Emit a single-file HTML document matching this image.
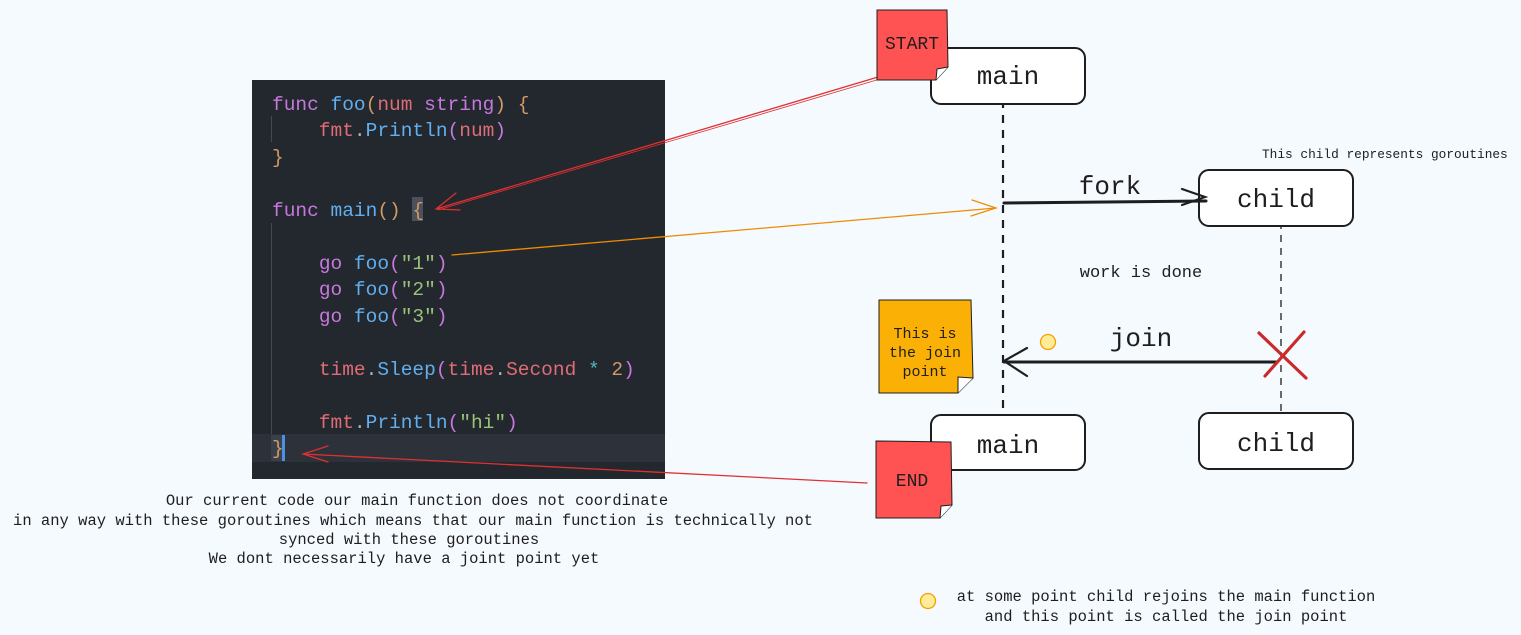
<!DOCTYPE html>
<html><head><meta charset="utf-8"><style>
html,body{margin:0;padding:0;background:#f5faff;}
svg{display:block}
.m{font-family:"Liberation Mono","DejaVu Sans Mono",monospace;}
</style></head><body>
<svg width="1521" height="635" xmlns="http://www.w3.org/2000/svg" class="m">
<rect width="1521" height="635" fill="#f5faff"/>
<!-- code panel -->
<rect x="252" y="80" width="413" height="399" fill="#23272e"/>
<rect x="252" y="434" width="413" height="28" fill="#2c313a"/>
<line x1="271.5" y1="116" x2="271.5" y2="142" stroke="#444a55" stroke-width="1"/>
<line x1="271.5" y1="223" x2="271.5" y2="434" stroke="#444a55" stroke-width="1"/>
<rect x="412" y="197" width="11" height="24" fill="#4a505c"/>
<rect x="271" y="435" width="11" height="26" fill="#3a404b"/>
<rect x="282" y="435" width="3" height="26" fill="#4d8fe0"/>
<g font-size="19.5" font-family="Liberation Mono, monospace">
<text x="272" y="110"><tspan fill="#c678dd">func</tspan> <tspan fill="#61afef">foo</tspan><tspan fill="#d19a66">(</tspan><tspan fill="#e06c75">num</tspan> <tspan fill="#c678dd">string</tspan><tspan fill="#d19a66">) {</tspan></text>
<text x="272" y="136" xml:space="preserve">    <tspan fill="#e06c75">fmt</tspan><tspan fill="#abb2bf">.</tspan><tspan fill="#61afef">Println</tspan><tspan fill="#c678dd">(</tspan><tspan fill="#e06c75">num</tspan><tspan fill="#c678dd">)</tspan></text>
<text x="272" y="163" fill="#d19a66">}</text>
<text x="272" y="216"><tspan fill="#c678dd">func</tspan> <tspan fill="#61afef">main</tspan><tspan fill="#d19a66">() {</tspan></text>
<text x="272" y="269" xml:space="preserve">    <tspan fill="#c678dd">go</tspan> <tspan fill="#61afef">foo</tspan><tspan fill="#c678dd">(</tspan><tspan fill="#98c379">"1"</tspan><tspan fill="#c678dd">)</tspan></text>
<text x="272" y="295" xml:space="preserve">    <tspan fill="#c678dd">go</tspan> <tspan fill="#61afef">foo</tspan><tspan fill="#c678dd">(</tspan><tspan fill="#98c379">"2"</tspan><tspan fill="#c678dd">)</tspan></text>
<text x="272" y="322" xml:space="preserve">    <tspan fill="#c678dd">go</tspan> <tspan fill="#61afef">foo</tspan><tspan fill="#c678dd">(</tspan><tspan fill="#98c379">"3"</tspan><tspan fill="#c678dd">)</tspan></text>
<text x="272" y="375" xml:space="preserve">    <tspan fill="#e06c75">time</tspan><tspan fill="#abb2bf">.</tspan><tspan fill="#61afef">Sleep</tspan><tspan fill="#c678dd">(</tspan><tspan fill="#e06c75">time</tspan><tspan fill="#abb2bf">.</tspan><tspan fill="#e06c75">Second</tspan> <tspan fill="#56b6c2">*</tspan> <tspan fill="#d19a66">2</tspan><tspan fill="#c678dd">)</tspan></text>
<text x="272" y="428" xml:space="preserve">    <tspan fill="#e06c75">fmt</tspan><tspan fill="#abb2bf">.</tspan><tspan fill="#61afef">Println</tspan><tspan fill="#c678dd">(</tspan><tspan fill="#98c379">"hi"</tspan><tspan fill="#c678dd">)</tspan></text>
<text x="272" y="454" fill="#d19a66">}</text>
</g>
<!-- connectors -->
<g fill="none" stroke-linecap="round">
<path d="M878 77 L436 209" stroke="#e03131" stroke-width="1.3"/>
<path d="M880 79 L438 210" stroke="#e03131" stroke-width="0.8"/>
<path d="M456 193 L436 209 L460 210" stroke="#e03131" stroke-width="1.2"/>
<path d="M452 255 L996 208" stroke="#f08c00" stroke-width="1.3"/>
<path d="M972 200 L996 208 L971 216" stroke="#f08c00" stroke-width="1.2"/>
<path d="M867 483 L303 454" stroke="#e03131" stroke-width="1.3"/>
<path d="M328 446 L303 454 L328 462" stroke="#e03131" stroke-width="1.2"/>
</g>
<!-- lifelines -->
<line x1="1003" y1="100" x2="1003" y2="415" stroke="#1e1e1e" stroke-width="2.2" stroke-dasharray="8 7"/>
<line x1="1281" y1="222" x2="1281" y2="413" stroke="#1e1e1e" stroke-width="1.3" stroke-dasharray="7 6"/>
<!-- boxes -->
<g fill="#fff" stroke="#1e1e1e" stroke-width="2">
<rect x="931" y="48" width="154" height="56" rx="10"/>
<rect x="1199" y="170" width="154" height="56" rx="10"/>
<rect x="931" y="415" width="154" height="55" rx="10"/>
<rect x="1199" y="413" width="154" height="56" rx="10"/>
</g>
<g font-size="26" fill="#1e1e1e" text-anchor="middle">
<text x="1008" y="84">main</text>
<text x="1276" y="207">child</text>
<text x="1008" y="453">main</text>
<text x="1276" y="451">child</text>
<text x="1110" y="194">fork</text>
<text x="1141" y="346">join</text>
</g>
<!-- arrows -->
<g fill="none" stroke="#1e1e1e" stroke-width="3" stroke-linecap="round">
<path d="M1004 203 L1206 201"/>
<path d="M1182 189 L1205 197 L1182 205" stroke-width="2.2"/>
<path d="M1004 362 L1277 362"/>
<path d="M1027 348 L1004 361 L1027 376" stroke-width="2.2"/>
</g>
<g stroke="#c92a2a" stroke-width="3.2" stroke-linecap="round">
<line x1="1259" y1="333" x2="1306" y2="378"/>
<line x1="1304" y1="332" x2="1265" y2="376"/>
</g>
<text x="1141" y="277" font-size="17" fill="#1e1e1e" text-anchor="middle">work is done</text>
<text x="1262" y="158" font-size="12.8" fill="#1e1e1e">This child represents goroutines</text>
<!-- stickies -->
<g stroke="#1e1e1e" stroke-width="1">
<path d="M877 10 L947 10 L948 67 L936 80 L877 80 Z" fill="#ff5252"/>
<path d="M936 80 L937 69 L948 67" fill="#fff"/>
<path d="M876 441 L951 442 L952 505 L940 518 L876 518 Z" fill="#ff5252"/>
<path d="M940 518 L941 506 L952 505" fill="#fff"/>
<path d="M879 300 L971 300 L973 378 L958 393 L879 393 Z" fill="#fab005"/>
<path d="M958 393 L958 377 L973 378" fill="#fff"/>
</g>
<g fill="#1e1e1e" text-anchor="middle">
<text x="912" y="49" font-size="18">START</text>
<text x="912" y="486" font-size="18">END</text>
<text x="925" y="338" font-size="15">This is</text>
<text x="925" y="357" font-size="15">the join</text>
<text x="925" y="376" font-size="15">point</text>
</g>
<circle cx="1048" cy="342" r="7.5" fill="#ffec99" stroke="#f59f00" stroke-width="1.3"/>
<circle cx="928" cy="601" r="7.5" fill="#ffec99" stroke="#f59f00" stroke-width="1.3"/>
<g font-size="15.5" fill="#1e1e1e" text-anchor="middle">
<text x="417" y="505">Our current code our main function does not coordinate</text>
<text x="413" y="525">in any way with these goroutines which means that our main function is technically not</text>
<text x="409" y="544">synced with these goroutines</text>
<text x="404" y="563">We dont necessarily have a joint point yet</text>
<text x="1166" y="601">at some point child rejoins the main function</text>
<text x="1166" y="621">and this point is called the join point</text>
</g>
</svg>
</body></html>
